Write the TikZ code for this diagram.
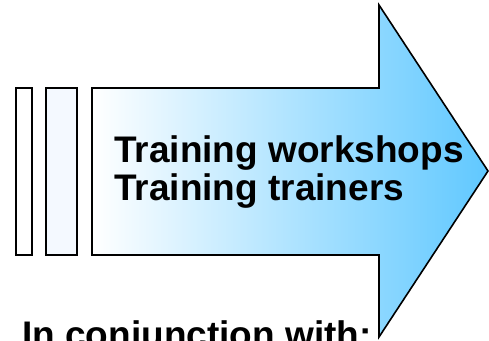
\documentclass[tikz,border=0pt]{standalone}
\usepackage{fontspec}
\setmainfont{Liberation Sans}
\definecolor{arrowblue}{RGB}{96,200,255}
\definecolor{barblue}{RGB}{244,249,255}
\tikzset{
  bar/.style={draw=black, line width=1.6pt},
  label/.style={inner sep=0pt, anchor=base west, font=\fontsize{37}{39}\selectfont\bfseries}
}
\begin{document}
\begin{tikzpicture}[x=1pt, y=-1pt]
    \useasboundingbox (0, 0) rectangle (489, 340);
    % the two bars on the left
    \draw[bar, fill=white] (16, 88) rectangle (32, 255);
    \draw[bar, fill=barblue] (46, 88) rectangle (77, 255);
    % the big arrow
    \shadedraw[line width=1.6pt, line join=miter, left color=white, right color=arrowblue]
        (92, 88) -- (379, 88) -- (379, 5) -- (488, 171) -- (379, 337) -- (379, 255) -- (92, 255) -- cycle;
    \node[label] (workshops) at (114, 162) {Training workshops};
    \node[label] (trainers) at (114, 200) {Training trainers};
    \node[label] (conjunction) at (22, 347) {In conjunction with:};
\end{tikzpicture}
\end{document}
